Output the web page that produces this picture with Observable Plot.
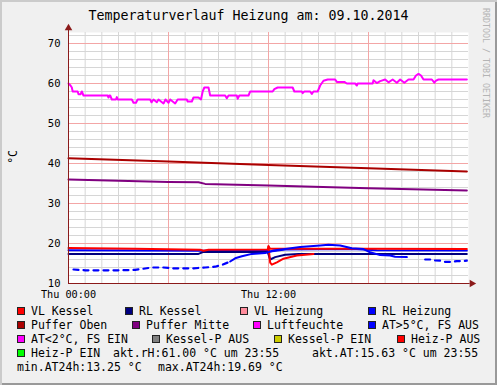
<!DOCTYPE html>
<html><head><meta charset="utf-8">
<script src="https://cdn.jsdelivr.net/npm/d3@7"></script>
<script src="https://cdn.jsdelivr.net/npm/@observablehq/plot@0.6"></script>
<style>
body{margin:0;background:#f0f0f0}
#chart{position:relative;width:497px;height:385px;background:#f0f0f0;overflow:hidden;font-family:"DejaVu Sans Mono",monospace;color:#000;
 box-shadow: inset 2px 2px 0 #cbcbcb, inset -2px -2px 0 #999999;}
#chart svg{position:absolute;left:0;top:0}
.abs{position:absolute;white-space:pre}
#title{left:0;top:7px;width:497px;text-align:center;font-size:13.3px;line-height:18px}
#wm{left:481px;top:8px;writing-mode:vertical-rl;font-size:8.3px;color:#b4b4b4;line-height:10px}
#ylab{left:6px;top:150px;writing-mode:vertical-rl;transform:rotate(180deg);font-size:11.5px;line-height:14px}
.lg{font-size:11.5px;line-height:14px;height:14px}
.box{position:absolute;width:8px;height:8px;box-sizing:border-box;border:1px solid #222}
</style>
</head><body>
<div id="chart">
 <div id="title" class="abs">Temperaturverlauf Heizung am: 09.10.2014</div>
 <div id="wm" class="abs">RRDTOOL / TOBI OETIKER</div>
 <div id="ylab" class="abs">°C</div>
</div>
<script>
// ---- data (x = hours since Thu 00:00, y = °C / %) ----
const xTickHours = [0, 12];
const xTickLabels = ["Thu 00:00", "Thu 12:00"];
const yTicks = [10, 20, 30, 40, 50, 60, 70];

const luftfeuchte = [
 [0,60],[0.12,59.5],[0.2,59],[0.25,58],[0.55,58],[0.6,57.3],[0.72,57.3],[0.8,58],[0.9,57],
 [2.35,57],[2.4,56.5],[2.45,57],[2.5,57],[2.6,56],[2.85,56],[2.9,56.6],[2.95,56],[3.8,56],
 [3.9,55.2],[4.05,55.2],[4.15,56],[4.9,56],[4.98,55.3],[5.1,56],[5.3,55.3],[5.4,56],[5.7,55],
 [5.82,56],[6.0,55.2],[6.1,56],[6.4,55],[6.55,56],[7.1,56],[7.15,55.5],[7.4,55.5],[7.5,56.5],
 [7.8,56.5],[7.95,56],[8.05,58],[8.15,59],[8.4,59],[8.5,57],[9.4,57],[9.5,56.3],[9.6,57],
 [10.1,57],[10.15,56.2],[10.25,57],[10.8,57],[10.9,58],[12.25,58],[12.35,58.6],[12.55,59],
 [13.45,59],[13.55,58],[14.0,58],[14.05,57.6],[14.15,58],[14.5,58],[14.6,57.4],[14.7,58],
 [14.95,58],[15.1,59.5],[15.3,60.7],[15.55,61],[16.0,61],[16.1,60.4],[16.55,60.4],[16.7,60],
 [17.2,60],[17.3,59.5],[17.35,60],[18.25,60],[18.3,60.8],[18.5,60.1],[18.7,60.6],[19.0,61],
 [19.2,60.3],[19.45,61],[19.7,60.2],[19.9,61],[20.15,60.2],[20.4,61],[20.7,61],[20.85,62],
 [21.0,62.4],[21.15,62],[21.3,61],[21.8,61],[21.95,60.2],[22.05,60.7],[22.2,61],[23.9,61]
];
const pufferOben = [[0,41.3],[6,40.5],[12,39.6],[18,38.8],[23.9,38.0]];
const pufferMitte = [[0,36.0],[6,35.4],[7.8,35.3],[8.2,34.9],[12,34.5],[18,33.8],[23.9,33.25]];
const vlKessel = [[0,18.9],[4,18.7],[7.9,18.45],[8.1,18.2],[8.4,18.45],[11.95,18.5],[12.0,19.3],[12.1,18.7],[18,18.7],[23.9,18.65]];
const heizPAus = [[12.0,19.3],[12.1,15.2],[12.2,14.7],[12.5,15.3],[12.9,16.2],[13.7,17.0],[14.7,17.4]];
const rlKessel = [[0,17.4],[7.8,17.4],[8.1,17.9],[11.95,17.9],[12.1,16.0],[12.4,16.6],[13.0,17.2],[13.8,17.4],[23.9,17.4]];
const rlHeizung = [[0,18.3],[7.9,18.2],[12,18.3],[12.1,18.0],[13,18.5],[17,18.6],[18.5,18.3],[23.9,18.25]];
const aussentemp = [
 [0.3,13.5],[1,13.3],[2,13.3],[3,13.3],[4,13.4],[5,14.0],[5.7,14.0],[6.3,13.8],[7.5,13.8],
 [8.2,14.0],[8.8,14.2],[9.25,14.7],[9.7,15.5],[10.0,16.3],[10.4,16.8],[11,17.4],[11.8,17.6],
 [12.3,18.25],[13,18.6],[13.9,19.1],[14.5,19.3],[15.1,19.5],[15.6,19.7],[16.3,19.5],[17,18.8],
 [17.7,18.6],[18.1,17.8],[18.7,17.1],[19.3,17.0],[19.6,16.7],[20.3,16.6],[21.4,16.0],[21.7,16.0],
 [22.0,15.75],[22.3,15.7],[22.6,15.4],[23.0,15.4],[23.3,15.6],[23.5,15.6],[23.9,15.7]
];

const legendLabels = ["VL Kessel","RL Kessel","VL Heizung","RL Heizung","Puffer Oben","Puffer Mitte","Luftfeuchte","AT>5°C, FS AUS","AT<2°C, FS EIN","Kessel-P AUS","Kessel-P EIN","Heiz-P AUS","Heiz-P EIN"];
const legendColors = ["#ff0000","#000080","#ff8c9c","#0000ff","#aa0000","#800080","#ff00ff","#0000ff","#ff00ff","#808080","#cccc00","#ff0000","#00ff00"];
const statTexts = ["akt.rH:61.00 °C um 23:55","akt.AT:15.63 °C um 23:55","min.AT24h:13.25 °C","max.AT24h:19.69 °C"];

// ---- layout (not data) ----
const xDomain = [0, 24], yDomain = [10, 72.75];
const legendLeft = [17,125,240,368, 17,132,253,368, 17,152,274,397, 17];
const legendRow  = [0,0,0,0, 1,1,1,1, 2,2,2,2, 3];
const statLeft = [113, 312, 17, 158];
const statRow  = [3, 3, 4, 4];
const rowCenter = [311, 325, 339, 353, 367];

const minorX = d3.range(1, 24).filter(h => h % 6 !== 0);
const majorX = [6, 12, 18];
const minorY = d3.range(12, 73, 2).filter(v => v % 10 !== 0);
const majorY = [20, 30, 40, 50, 60, 70];
const axisColor = "#8b1a1a";

const plot = Plot.plot({
 width: 497, height: 300,
 marginLeft: 68, marginRight: 29, marginTop: 32, marginBottom: 17,
 style: {background: "transparent", fontFamily: "DejaVu Sans Mono", fontSize: "10px", color: "#000", overflow: "visible"},
 x: {domain: xDomain, axis: null},
 y: {domain: yDomain, axis: null},
 marks: [
  Plot.frame({fill: "white", stroke: null}),
  Plot.ruleX(minorX, {stroke: "#d6d6d6"}),
  Plot.ruleY(minorY, {stroke: "#d6d6d6"}),
  Plot.ruleX(majorX, {stroke: "#f3a6a6"}),
  Plot.ruleY(majorY, {stroke: "#f3a6a6"}),
  Plot.line(pufferOben, {stroke: "#aa0000", strokeWidth: 2}),
  Plot.line(pufferMitte, {stroke: "#800080", strokeWidth: 2}),
  Plot.line(luftfeuchte, {stroke: "#ff00ff", strokeWidth: 2}),
  Plot.line(rlHeizung, {stroke: "#0000ff", strokeWidth: 2}),
  Plot.line(rlKessel, {stroke: "#000080", strokeWidth: 2}),
  Plot.line(vlKessel, {stroke: "#ff0000", strokeWidth: 2}),
  Plot.line(heizPAus, {stroke: "#ff0000", strokeWidth: 2}),
  Plot.line(aussentemp.filter(d => d[0] <= 9.7), {stroke: "#0000ff", strokeWidth: 2.2, strokeDasharray: "5,5"}),
  Plot.line(aussentemp.filter(d => d[0] >= 9.7 && d[0] <= 20.3), {stroke: "#0000ff", strokeWidth: 2}),
  Plot.line(aussentemp.filter(d => d[0] >= 21.4), {stroke: "#0000ff", strokeWidth: 2.2, strokeDasharray: "5,5"}),
  Plot.axisY(yTicks, {tickSize: 0, tickPadding: 8, fontSize: 10.5}),
  Plot.axisX(xTickHours, {tickSize: 0, tickPadding: 7, fontSize: 10.2, tickFormat: d => xTickLabels[xTickHours.indexOf(d)]}),
  Plot.ruleY([yDomain[0]], {x1: xDomain[0], x2: xDomain[1] + 0.1, stroke: axisColor}),
  Plot.ruleX([xDomain[0]], {y1: yDomain[0], y2: yDomain[1] + 0.9, stroke: axisColor}),
  Plot.dot([[xDomain[1] + 0.2, yDomain[0]]], {symbol: "triangle", r: 2.8, rotate: 90, fill: axisColor, stroke: null}),
  Plot.dot([[xDomain[0], yDomain[1] + 1.1]], {symbol: "triangle", r: 2.8, fill: axisColor, stroke: null})
 ]
});
const chart = document.getElementById("chart");
chart.insertBefore(plot, chart.firstChild);

legendLabels.forEach((label, i) => {
 const cy = rowCenter[legendRow[i]];
 const b = document.createElement("div");
 b.className = "box";
 b.style.left = legendLeft[i] + "px";
 b.style.top = (cy - 4) + "px";
 b.style.background = legendColors[i];
 chart.appendChild(b);
 const t = document.createElement("div");
 t.className = "abs lg";
 t.style.left = (legendLeft[i] + 14) + "px";
 t.style.top = (cy - 7) + "px";
 t.textContent = label;
 chart.appendChild(t);
});
statTexts.forEach((s, i) => {
 const t = document.createElement("div");
 t.className = "abs lg";
 t.style.left = statLeft[i] + "px";
 t.style.top = (rowCenter[statRow[i]] - 7) + "px";
 t.textContent = s;
 chart.appendChild(t);
});
</script>
</body></html>
